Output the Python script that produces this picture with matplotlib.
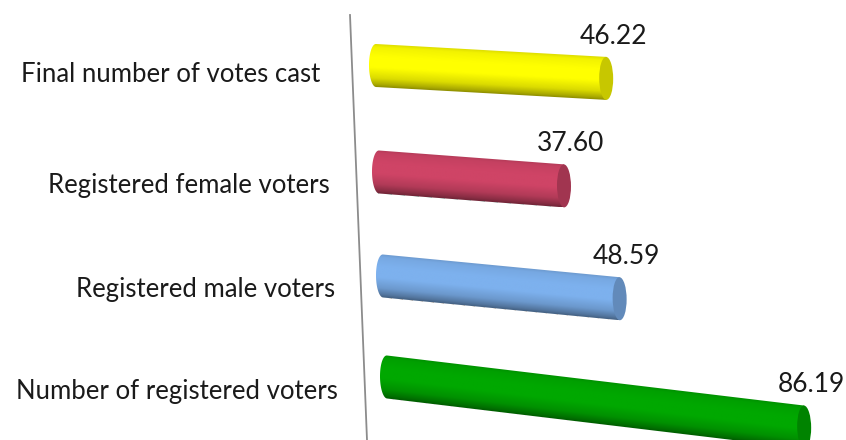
import numpy as np
import matplotlib
matplotlib.use("Agg")
import matplotlib.pyplot as plt
from matplotlib.patches import Ellipse, Polygon
from matplotlib.transforms import Affine2D
from matplotlib.colors import to_rgb

plt.rcParams['font.family'] = ['Lato', 'DejaVu Sans']

# data (top row first, like the picture)
categories = ["Final number of votes cast", "Registered female voters",
              "Registered male voters", "Number of registered voters"]
values = [46.22, 37.60, 48.59, 86.19]
colors = ["#ffff00", "#cf4466", "#7db1ee", "#00a800"]

# fake 3D perspective, one affine per row (pixel layout)
row_x0 = [376, 379, 383, 387]
row_y0 = [65.5, 172, 276, 377]
row_k = [4.98, 4.92, 4.87, 4.84]
row_slope = [0.056, 0.075, 0.096, 0.12]
label_right = [320, 330, 335, 338]
label_dy = [9, 14, 13, 15]
bar_h = 43
cap_px = 14


def shade(rgb, n=80):
    t = np.linspace(0, 1, n)
    inten = np.interp(t, [0, .08, .3, .55, .8, .95, 1],
                      [.86, .95, 1, 1, .86, .66, .56])
    img = np.clip(np.outer(inten, rgb), 0, 1)
    return img.reshape(n, 1, 3)


fig = plt.figure(figsize=(8.46, 4.4), dpi=100)
ax = fig.add_axes([0, 0, 1, 1])

for i in range(len(values)):
    v = values[i]
    rgb = np.array(to_rgb(colors[i]))
    k = row_k[i]
    T = Affine2D(np.array([[k, 0, row_x0[i]],
                           [k * row_slope[i], 1, row_y0[i]],
                           [0, 0, 1]])) + ax.transData
    cw = cap_px / k

    # body outline: rounded left end, straight right end (cap covers it)
    a = np.linspace(np.pi / 2, 3 * np.pi / 2, 40)
    pts = np.column_stack([cw / 2 * np.cos(a), bar_h / 2 * np.sin(a)])
    pts = np.vstack([pts, [[v, -bar_h / 2], [v, bar_h / 2]]])
    clip = Polygon(pts, closed=True, transform=T, facecolor='none', edgecolor='none')
    ax.add_patch(clip)

    im = ax.imshow(shade(rgb), extent=(-cw / 2, v, bar_h / 2, -bar_h / 2),
                   origin='upper', aspect='auto', interpolation='bilinear',
                   transform=T)
    im.set_clip_path(clip)

    # end cap
    ax.add_patch(Ellipse((v, 0), cw, bar_h, transform=T,
                         facecolor=np.clip(rgb * 0.78, 0, 1), edgecolor='none'))

    # value label above the right end
    ax.annotate(f"{v:.2f}", xy=(v, -bar_h / 2), xycoords=T,
                xytext=(5, 15), textcoords='offset points',
                ha='center', va='center', fontsize=19, color='#1a1a1a')

    # category label
    ax.text(label_right[i], row_y0[i] + label_dy[i], categories[i],
            ha='right', va='center', fontsize=18.5, color='#1a1a1a')

# slanted axis line
ax.plot([350, 367], [15, 440], color='#8c8c8c', lw=1.3)

ax.set_xlim(0, 846)
ax.set_ylim(440, 0)
ax.axis('off')

fig.savefig("out.png", dpi=100)
